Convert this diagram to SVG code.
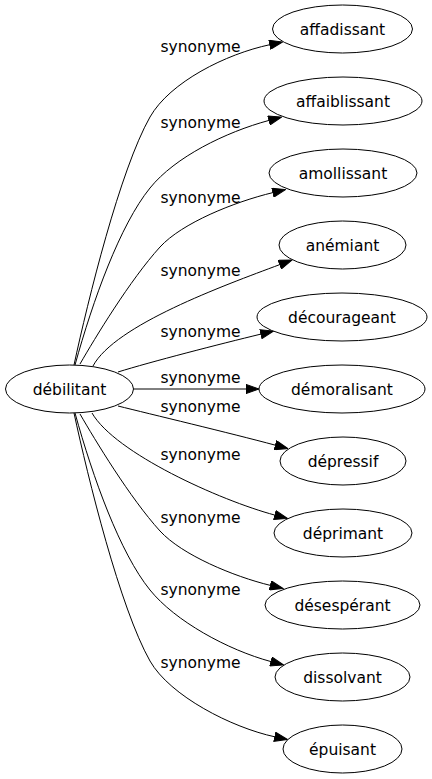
<svg xmlns="http://www.w3.org/2000/svg" width="432" height="779" viewBox="0 0 432 779">
<style>
.node ellipse{fill:#fff;stroke:#000;stroke-width:1}
.node text{font-family:"DejaVu Sans",sans-serif;font-size:15.5px;fill:#000;text-anchor:middle}
.edge path{fill:none;stroke:#000;stroke-width:1;marker-end:url(#arr)}
.edge text{font-family:"DejaVu Sans",sans-serif;font-size:15.5px;fill:#000;text-anchor:middle}
</style>
<defs>
<marker id="arr" markerUnits="userSpaceOnUse" markerWidth="14" markerHeight="10" viewBox="0 0 13 10" refX="0" refY="5" orient="auto">
<path d="M0,0.4 L13,5 L0,9.6 z" fill="#000" stroke="#000" stroke-width="1"/>
</marker>
</defs>
<rect width="432" height="779" fill="#fff"/>
<g id="edges" class="edge">
<path d="M74,365 C88,300 120,170 150,117 C170,82 226,54 269.8,44.7"/>
<text x="200.5" y="52">synonyme</text>
<path d="M75,365 C93,300 120,225 150,188 C175,157 225.6,132.1 269,120.4"/>
<text x="200.5" y="128">synonyme</text>
<path d="M80,364 C95,338 130,280 160,247 C182,223 234,202 272.9,192.6"/>
<text x="200.5" y="203">synonyme</text>
<path d="M93,366 C115,325 223.6,285.6 279.8,264.6"/>
<text x="200.5" y="276">synonyme</text>
<path d="M118,372 C150,362 220,344 260.9,334.1"/>
<text x="200.5" y="337">synonyme</text>
<path d="M133.5,389 L246,389"/>
<text x="200.5" y="383">synonyme</text>
<path d="M118,406 C150,414 230,433 275.4,445.2"/>
<text x="200.5" y="412">synonyme</text>
<path d="M92,413 C115,453 219.8,500.3 274.9,515.1"/>
<text x="200.5" y="460">synonyme</text>
<path d="M80,414 C95,440 130,498 160,531 C182,555 233.5,576.4 270.4,585.4"/>
<text x="200.5" y="523">synonyme</text>
<path d="M75,413 C93,478 120,553 150,590 C175,621 227.6,649.9 271,661.6"/>
<text x="200.5" y="595">synonyme</text>
<path d="M74,413 C88,478 120,608 150,661 C170,696 231.8,727.6 274.8,736.8"/>
<text x="200.5" y="668">synonyme</text>
</g>
<g id="n0" class="node"><ellipse cx="69.5" cy="389" rx="64" ry="24"/><text x="69.5" y="394.5">débilitant</text></g>
<g id="n1" class="node"><ellipse cx="342.5" cy="29" rx="70" ry="24"/><text x="342.5" y="34.5">affadissant</text></g>
<g id="n2" class="node"><ellipse cx="343" cy="101" rx="79" ry="24"/><text x="343" y="106.5">affaiblissant</text></g>
<g id="n3" class="node"><ellipse cx="343" cy="173" rx="74" ry="24"/><text x="343" y="178.5">amollissant</text></g>
<g id="n4" class="node"><ellipse cx="342.5" cy="245" rx="63.5" ry="24"/><text x="342.5" y="250.5">anémiant</text></g>
<g id="n5" class="node"><ellipse cx="342" cy="317" rx="85" ry="24"/><text x="342" y="322.5">décourageant</text></g>
<g id="n6" class="node"><ellipse cx="342" cy="389" rx="83" ry="24"/><text x="342" y="394.5">démoralisant</text></g>
<g id="n7" class="node"><ellipse cx="343" cy="461" rx="63" ry="24"/><text x="343" y="466.5">dépressif</text></g>
<g id="n8" class="node"><ellipse cx="343" cy="533" rx="69" ry="24"/><text x="343" y="538.5">déprimant</text></g>
<g id="n9" class="node"><ellipse cx="342.5" cy="605" rx="77.5" ry="24"/><text x="342.5" y="610.5">désespérant</text></g>
<g id="n10" class="node"><ellipse cx="342.5" cy="677" rx="67.5" ry="24"/><text x="342.5" y="682.5">dissolvant</text></g>
<g id="n11" class="node"><ellipse cx="342.5" cy="749" rx="59.5" ry="24"/><text x="342.5" y="754.5">épuisant</text></g>
</svg>
